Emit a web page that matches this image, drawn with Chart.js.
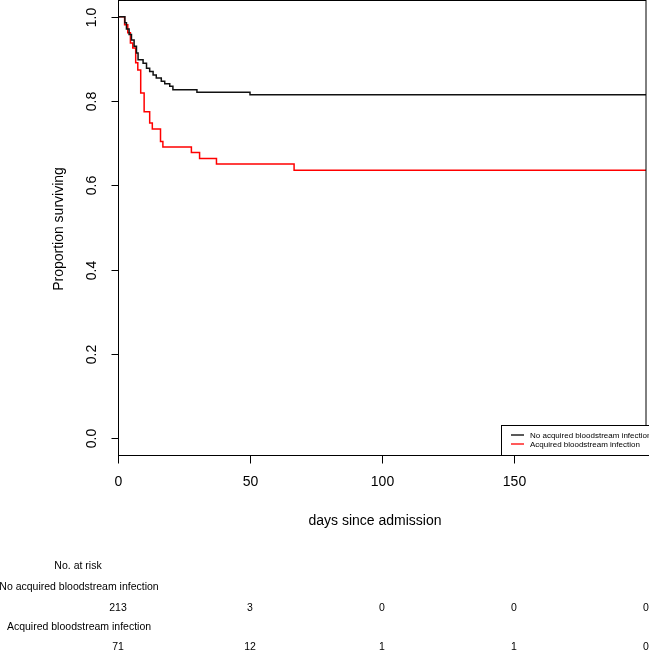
<!DOCTYPE html>
<html>
<head>
<meta charset="utf-8">
<script src="https://cdn.jsdelivr.net/npm/chart.js@4/dist/chart.umd.min.js"></script>
<style>
  body { margin: 0; background: #fff; }
  canvas { display: block; }
</style>
</head>
<body>
<canvas id="km" width="649" height="653"></canvas>
<script>
// KM curves (days, proportion surviving)
const noTimes = [0, 2.6, 3.2, 4.2, 5.1, 6.1, 7.0, 7.6, 9.5, 10.8, 12.0, 13.3, 14.5, 16.4, 17.7, 19.6, 20.8, 29.9, 50, 200];
const noSurv  = [1.0, 0.986, 0.971, 0.958, 0.945, 0.930, 0.914, 0.898, 0.890, 0.878, 0.870, 0.862, 0.855, 0.847, 0.841, 0.835, 0.827, 0.821, 0.815, 0.815];

const acqTimes = [0, 2.5, 3.7, 4.7, 5.6, 6.7, 7.5, 8.6, 9.9, 12.0, 13.0, 16.1, 17.0, 27.8, 30.9, 37.3, 66.7, 200];
const acqSurv  = [1.0, 0.981, 0.962, 0.938, 0.926, 0.891, 0.874, 0.819, 0.775, 0.748, 0.734, 0.704, 0.691, 0.678, 0.664, 0.651, 0.636, 0.636];

const groupNames = ["No acquired bloodstream infection", "Acquired bloodstream infection"];
const xTicks = [0, 50, 100, 150];
const yTicks = [0, 0.2, 0.4, 0.6, 0.8, 1.0];
const riskTimes = [0, 50, 100, 150, 200];
const riskNo  = [213, 3, 0, 0, 0];
const riskAcq = [71, 12, 1, 1, 0];

const FONT = '"Liberation Sans", Arial, Helvetica, sans-serif';

function pts(t, v) {
    var out = [];
    for (let i = 0; i < t.length; i++) out.push({x: t[i], y: v[i]});
    return out;
}

// everything around the plot box drawn R-style
const rStyle = {
    id: "rStyle",
    afterDraw(chart) {
        const ctx = chart.ctx;
        const ca = chart.chartArea;
        const xs = chart.scales.x, ys = chart.scales.y;
        ctx.save();
        ctx.strokeStyle = "#000";
        ctx.fillStyle = "#000";
        ctx.lineWidth = 1;

        // box
        const L = Math.round(ca.left) + 0.5, B = Math.round(ca.bottom) + 0.5;
        ctx.strokeRect(L, 0.5, Math.round(ca.right) - L, B - 0.5);

        // y axis
        ctx.font = "14px " + FONT;
        ctx.textAlign = "center";
        ctx.textBaseline = "middle";
        yTicks.forEach(v => {
            const y = Math.round(ys.getPixelForValue(v)) + 0.5;
            ctx.beginPath(); ctx.moveTo(L - 7, y); ctx.lineTo(L, y); ctx.stroke();
            ctx.save();
            ctx.translate(92, y);
            ctx.rotate(-Math.PI / 2);
            ctx.fillText(v.toFixed(1), 0, 0);
            ctx.restore();
        });

        // x axis
        xTicks.forEach(t => {
            const x = Math.round(xs.getPixelForValue(t)) + 0.5;
            ctx.beginPath(); ctx.moveTo(x, B); ctx.lineTo(x, B + 8); ctx.stroke();
            ctx.fillText(String(t), x, 482);
        });

        // titles
        ctx.fillText("days since admission", 375, 521);
        ctx.save();
        ctx.translate(59, 229);
        ctx.rotate(-Math.PI / 2);
        ctx.fillText("Proportion surviving", 0, 0);
        ctx.restore();

        // legend
        ctx.fillStyle = "#fff";
        ctx.fillRect(501.5, 425.5, 160, B - 425.5);
        ctx.strokeRect(501.5, 425.5, 160, B - 425.5);
        const cols = ["#000", "#ff0000"];
        ctx.font = "8px " + FONT;
        ctx.textAlign = "left";
        for (let i = 0; i < 2; i++) {
            const y = 435 + i * 9;
            ctx.strokeStyle = cols[i];
            ctx.lineWidth = 1.3;
            ctx.beginPath(); ctx.moveTo(511, y); ctx.lineTo(524, y); ctx.stroke();
            ctx.fillStyle = "#000";
            ctx.fillText(groupNames[i], 530, y + 0.5);
        }

        // number at risk
        ctx.font = "10.5px " + FONT;
        ctx.textAlign = "center";
        ctx.fillText("No. at risk", 78, 566);
        ctx.fillText(groupNames[0], 79, 587);
        ctx.fillText(groupNames[1], 79, 627);
        riskTimes.forEach((t, i) => {
            const x = xs.getPixelForValue(t);
            ctx.fillText(String(riskNo[i]), x, 608);
            ctx.fillText(String(riskAcq[i]), x, 647);
        });
        ctx.restore();
    }
};

var chart = new Chart(document.getElementById("km"), {
    type: "line",
    data: {
        datasets: [{
            label: groupNames[0],
            data: pts(noTimes, noSurv),
            borderColor: "#111",
            borderWidth: 1.5,
            stepped: "before",
            pointRadius: 0,
            fill: false
        }, {
            label: groupNames[1],
            data: pts(acqTimes, acqSurv),
            borderColor: "#ff0000",
            borderWidth: 1.5,
            stepped: "before",
            pointRadius: 0,
            fill: false
        }]
    },
    options: {
        responsive: false,
        animation: false,
        layout: { padding: { left: 118, right: 3, top: 0, bottom: 198 } },
        scales: {
            x: { type: "linear", min: 0, max: 200, display: false },
            y: { type: "linear", min: -0.04, max: 1.04, display: false }
        },
        plugins: { legend: { display: false }, tooltip: { enabled: false } }
    },
    plugins: [rStyle]
});
</script>
</body>
</html>
